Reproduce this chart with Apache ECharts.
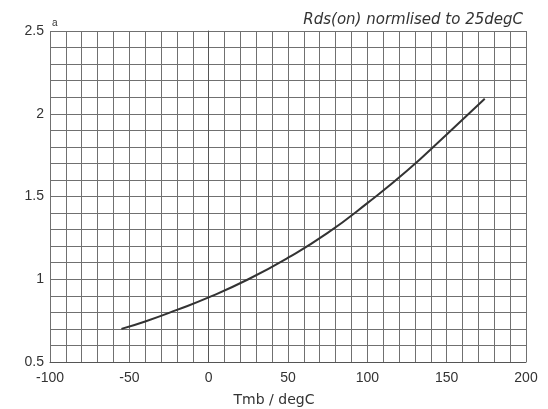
<!DOCTYPE html>
<html>
<head>
<meta charset="utf-8">
<script src="https://cdn.jsdelivr.net/npm/echarts@6/dist/echarts.min.js"></script>
<style>html,body{margin:0;padding:0;background:#fff}#c{width:548px;height:409px}</style>
</head>
<body>
<div id="c"></div>
<script>
const temps = [-55, -40, -20, 0, 25, 50, 75, 100, 125, 150, 174];
const rdsNorm = [0.70, 0.745, 0.815, 0.89, 1.0, 1.13, 1.28, 1.46, 1.655, 1.875, 2.09];
const xTitle = 'Tmb / degC';
const yTitle = 'a';
const chartTitle = 'Rds(on) normlised to 25degC';

const chart = echarts.init(document.getElementById('c'));
const gridColor = '#707070';
const font = 'Liberation Sans';
chart.setOption({
  animation: false,
  backgroundColor: '#fff',
  title: {
    text: chartTitle, right: 20, top: 8,
    textStyle: {fontFamily: 'DejaVu Sans', fontSize: 15, fontStyle: 'italic', fontWeight: 'normal', color: '#333'}
  },
  graphic: [{
    type: 'text', left: 52, top: 18,
    style: {text: yTitle, fontFamily: font, fontSize: 10, fill: '#333'}
  }],
  grid: {left: 50, right: 22, top: 31, bottom: 47, outerBoundsMode: 'none', containLabel: false},
  xAxis: {
    type: 'value', min: -100, max: 200, interval: 50,
    name: xTitle, nameLocation: 'middle', nameGap: 31,
    nameTextStyle: {fontFamily: 'DejaVu Sans', fontSize: 14, color: '#333', padding: [0, 28, 0, 0]},
    axisLine: {show: true, lineStyle: {color: '#555', width: 1}},
    axisTick: {show: false},
    axisLabel: {fontFamily: font, fontSize: 14, color: '#333', margin: 9},
    splitLine: {show: true, lineStyle: {color: gridColor, width: 1}},
    minorTick: {show: false, splitNumber: 5},
    minorSplitLine: {show: true, lineStyle: {color: gridColor, width: 1}}
  },
  yAxis: {
    type: 'value', min: 0.5, max: 2.5, interval: 0.5,
    axisLine: {show: true, lineStyle: {color: '#555', width: 1}},
    axisTick: {show: false},
    axisLabel: {fontFamily: font, fontSize: 14, color: '#333', margin: 6},
    splitLine: {show: true, lineStyle: {color: gridColor, width: 1}},
    minorTick: {show: false, splitNumber: 5},
    minorSplitLine: {show: true, lineStyle: {color: gridColor, width: 1}}
  },
  series: [{
    type: 'line', smooth: true, showSymbol: false,
    data: temps.map((t, i) => [t, rdsNorm[i]]),
    lineStyle: {color: '#333', width: 2}
  }]
});
</script>
</body>
</html>
